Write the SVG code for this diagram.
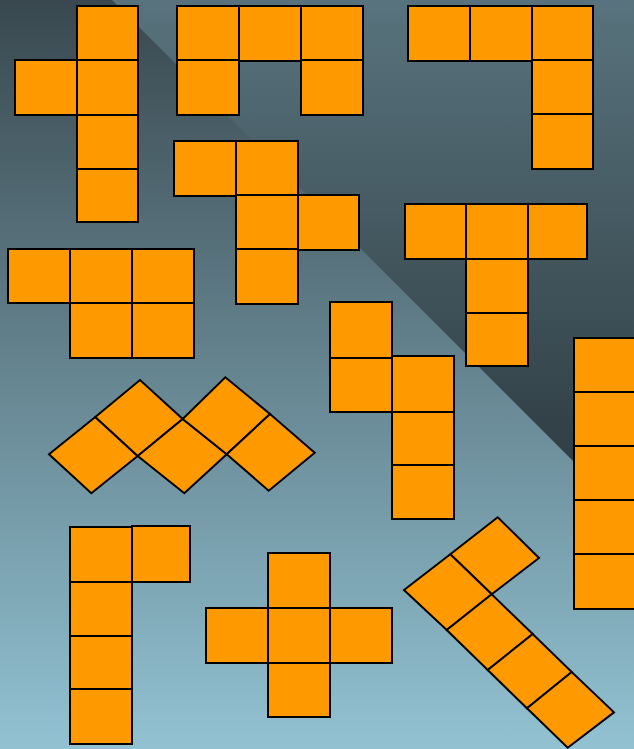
<svg xmlns="http://www.w3.org/2000/svg" width="634" height="749" viewBox="0 0 634 749">
  <defs>
    <linearGradient id="bg" x1="0" y1="0" x2="0" y2="749" gradientUnits="userSpaceOnUse">
      <stop offset="0" stop-color="#39484f"/>
      <stop offset="1" stop-color="#92c2d2"/>
    </linearGradient>
    <linearGradient id="tri" x1="0" y1="0" x2="0" y2="522" gradientUnits="userSpaceOnUse">
      <stop offset="0" stop-color="#58737d"/>
      <stop offset="1" stop-color="#2b373d"/>
    </linearGradient>
    <style>
      .c { fill: #ff9900; stroke: #000; stroke-width: 2; stroke-linejoin: miter; }
    </style>
  </defs>

  <rect x="0" y="0" width="634" height="749" fill="url(#bg)"/>
  <polygon points="112,0 634,0 634,522" fill="url(#tri)"/>

  <g id="pent-Y">
    <rect class="c" x="77" y="6" width="61" height="54"/>
    <rect class="c" x="77" y="60" width="61" height="55"/>
    <rect class="c" x="77" y="115" width="61" height="54"/>
    <rect class="c" x="77" y="169" width="61" height="53"/>
    <rect class="c" x="15" y="60" width="62" height="55"/>
  </g>

  <g id="pent-U">
    <rect class="c" x="239" y="6" width="62" height="55"/>
    <rect class="c" x="177" y="6" width="62" height="54"/>
    <rect class="c" x="301" y="6" width="62" height="54"/>
    <rect class="c" x="177" y="60" width="62" height="55"/>
    <rect class="c" x="301" y="60" width="62" height="55"/>
  </g>

  <g id="pent-V">
    <rect class="c" x="408" y="6" width="62" height="55"/>
    <rect class="c" x="470" y="6" width="62" height="55"/>
    <rect class="c" x="532" y="6" width="61" height="54"/>
    <rect class="c" x="532" y="60" width="61" height="54"/>
    <rect class="c" x="532" y="114" width="61" height="55"/>
  </g>

  <g id="pent-F">
    <rect class="c" x="174" y="141" width="62" height="55"/>
    <rect class="c" x="236" y="141" width="62" height="54"/>
    <rect class="c" x="236" y="195" width="62" height="54"/>
    <rect class="c" x="236" y="249" width="62" height="55"/>
    <rect class="c" x="298" y="195" width="61" height="55"/>
  </g>

  <g id="pent-T">
    <rect class="c" x="405" y="204" width="61" height="55"/>
    <rect class="c" x="466" y="204" width="62" height="55"/>
    <rect class="c" x="528" y="204" width="59" height="55"/>
    <rect class="c" x="466" y="259" width="62" height="54"/>
    <rect class="c" x="466" y="313" width="62" height="53"/>
  </g>

  <g id="pent-P">
    <rect class="c" x="8" y="249" width="62" height="54"/>
    <rect class="c" x="70" y="249" width="62" height="54"/>
    <rect class="c" x="132" y="249" width="62" height="54"/>
    <rect class="c" x="70" y="303" width="62" height="55"/>
    <rect class="c" x="132" y="303" width="62" height="55"/>
  </g>

  <g id="pent-W">
    <polygon class="c" points="49,454.3 95.3,417 137.7,456 91.3,493.3"/>
    <polygon class="c" points="95.3,417 140,380 182.7,419 137.7,456"/>
    <polygon class="c" points="137.7,456 182.7,419 226.7,454.3 184.3,493.3"/>
    <polygon class="c" points="182.7,419 225.3,377.3 270,414 226.7,454.3"/>
    <polygon class="c" points="226.7,454.3 270,414 314.7,452.7 268.7,490.7"/>
  </g>

  <g id="pent-N">
    <rect class="c" x="330" y="302" width="62" height="56"/>
    <rect class="c" x="330" y="358" width="62" height="54"/>
    <rect class="c" x="392" y="356" width="62" height="56"/>
    <rect class="c" x="392" y="412" width="62" height="53"/>
    <rect class="c" x="392" y="465" width="62" height="54"/>
  </g>

  <g id="pent-I">
    <rect class="c" x="574" y="338" width="62" height="54"/>
    <rect class="c" x="574" y="392" width="62" height="54"/>
    <rect class="c" x="574" y="446" width="62" height="54"/>
    <rect class="c" x="574" y="500" width="62" height="54"/>
    <rect class="c" x="574" y="554" width="62" height="55"/>
  </g>

  <g id="pent-L">
    <rect class="c" x="70" y="527" width="62" height="55"/>
    <rect class="c" x="70" y="582" width="62" height="54"/>
    <rect class="c" x="70" y="636" width="62" height="53"/>
    <rect class="c" x="70" y="689" width="62" height="55"/>
    <rect class="c" x="132" y="526" width="58" height="56"/>
  </g>

  <g id="pent-X">
    <rect class="c" x="268" y="553" width="62" height="55"/>
    <rect class="c" x="206" y="608" width="62" height="55"/>
    <rect class="c" x="268" y="608" width="62" height="55"/>
    <rect class="c" x="330" y="608" width="62" height="55"/>
    <rect class="c" x="268" y="663" width="62" height="54"/>
  </g>

  <g id="pent-L2">
    <polygon class="c" points="450.3,554.3 497.7,517.3 539,558 491.7,594.3"/>
    <polygon class="c" points="404,590 450.3,554.3 491.7,594.3 446.7,630"/>
    <polygon class="c" points="446.7,630 491.7,594.3 532.7,634 487.7,670"/>
    <polygon class="c" points="487.7,670 532.7,634 571.7,672 527,708.3"/>
    <polygon class="c" points="527,708.3 571.7,672 614,712.3 567.7,747.7"/>
  </g>
</svg>
